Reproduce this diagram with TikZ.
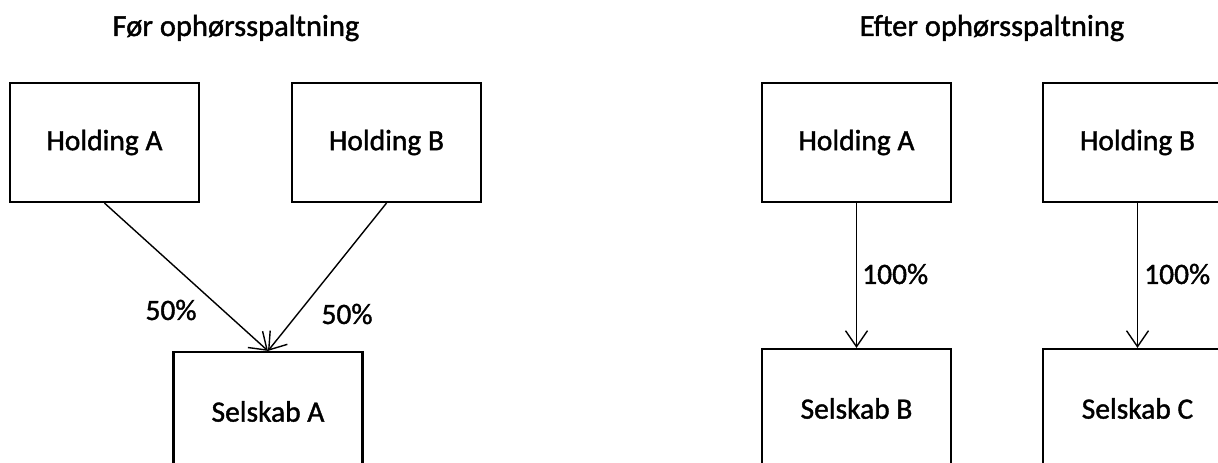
\documentclass[tikz,border=0pt]{standalone}
\usepackage{fontspec}
\setmainfont{Carlito}
\newfontfamily\dfont{Carlito}[FakeBold=1.3]
\usetikzlibrary{arrows.meta}
\begin{document}
\begin{tikzpicture}[x=1pt,y=-1pt,
  box/.style={draw,line width=2.2pt,minimum width=189pt,minimum height=119pt,inner sep=0pt,font=\dfont\fontsize{29.5}{31}\selectfont},
  lbl/.style={font=\dfont\fontsize{29.5}{31}\selectfont,inner sep=0pt},
  conn/.style={line width=1.4pt,-{Straight Barb[length=16pt,width=22pt,line width=1.4pt]}}]
\useasboundingbox (0,0) rectangle (1218,463);
\clip (0,0) rectangle (1218,463);
\node[lbl,font=\dfont\fontsize{30.5}{32}\selectfont] (t1) at (236,28) {Før ophørsspaltning};
\node[lbl,font=\dfont\fontsize{30.5}{32}\selectfont] (t2) at (992,28) {Efter ophørsspaltning};
\node[box] (ha) at (104.5,142.5) {Holding A};
\node[box] (hb) at (386.5,142.5) {Holding B};
\node[box] (sa) at (268,411.5) {Selskab A};
\draw[conn] (ha.south) -- (sa.north);
\draw[conn] (hb.south) -- (sa.north);
\node[lbl] (l1) at (171,310) {50\%};
\node[lbl] (l2) at (347,314) {50\%};
\node[box] (ha2) at (856.5,142.5) {Holding A};
\node[box] (hb2) at (1137.5,142.5) {Holding B};
\node[box] (sb) at (856.5,408.5) {Selskab B};
\node[box] (sc) at (1137.5,408.5) {Selskab C};
\draw[conn] (ha2.south) -- (sb.north);
\draw[conn] (hb2.south) -- (sc.north);
\node[lbl,anchor=west] (l3) at (862,274) {100\%};
\node[lbl,anchor=west] (l4) at (1144,274) {100\%};
\end{tikzpicture}
\end{document}
